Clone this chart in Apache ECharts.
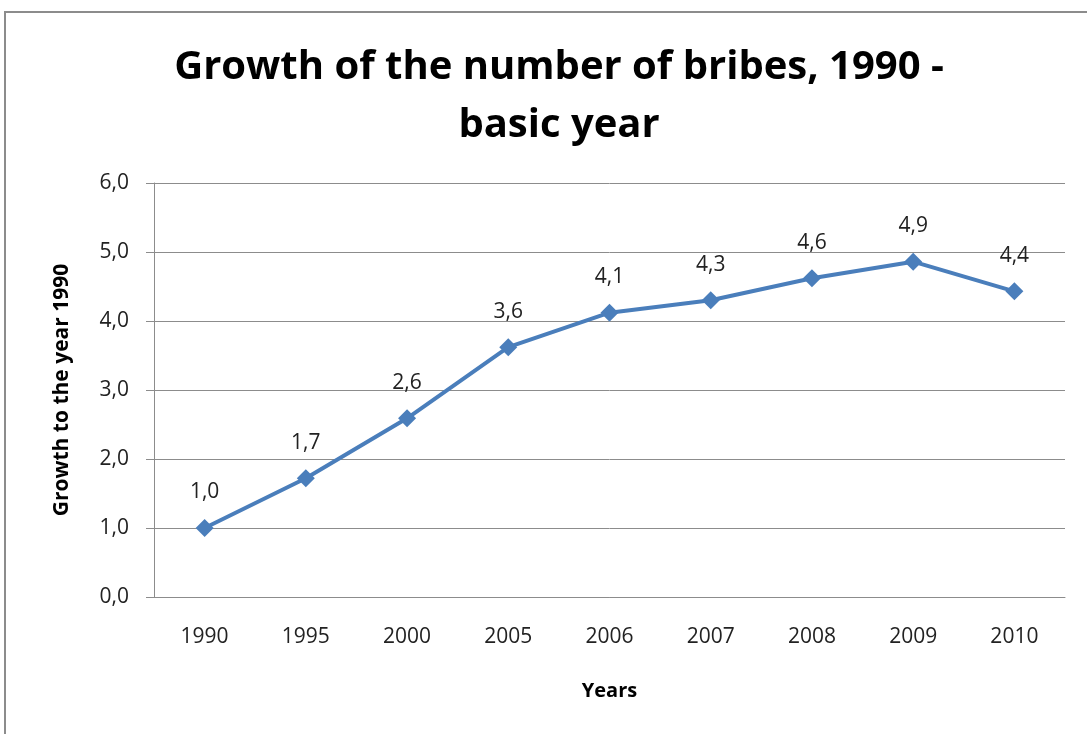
<!DOCTYPE html>
<html>
<head>
<meta charset="utf-8">
<script src="https://cdn.jsdelivr.net/npm/echarts@6/dist/echarts.min.js"></script>
<style>
  html, body { margin: 0; padding: 0; background: #fff; }
  #chart { width: 1087px; height: 734px; }
</style>
</head>
<body>
<div id="chart"></div>
<script>
// years on the x axis
var years = ['1990', '1995', '2000', '2005', '2006', '2007', '2008', '2009', '2010'];
// growth relative to 1990
var growth = [1.0, 1.72, 2.59, 3.62, 4.12, 4.30, 4.62, 4.86, 4.43];

var fontFam = '"Open Sans", "Noto Sans", sans-serif';
var chart = echarts.init(document.getElementById('chart'));

// 1.0 -> "1,0"
function comma(v) { return v.toFixed(1).replace('.', ','); }

chart.setOption({
    backgroundColor: '#fff',
    animation: false,
    graphic: [{
        type: 'rect',
        shape: { x: 5, y: 12, width: 1100, height: 740 },
        style: { fill: 'none', stroke: '#8c8c8c', lineWidth: 2 },
        silent: true
    }],
    title: {
        text: 'Growth of the number of bribes, 1990 -\nbasic year',
        left: 554,
        top: 34,
        textAlign: 'center',
        textStyle: {
            fontFamily: fontFam,
            fontWeight: 'bold',
            fontSize: 40,
            lineHeight: 58,
            color: '#000'
        }
    },
    grid: { left: 154, top: 183, width: 911, height: 414 },
    xAxis: {
        type: 'category',
        data: years,
        name: 'Years',
        nameLocation: 'middle',
        nameGap: 84,
        nameTextStyle: { fontFamily: fontFam, fontWeight: 'bold', fontSize: 20, color: '#000' },
        axisLine: { lineStyle: { color: '#8c8c8c', width: 1 } },
        axisTick: { length: 9, lineStyle: { color: '#8c8c8c' } },
        axisLabel: { fontFamily: fontFam, fontSize: 21, color: '#222', margin: 30 }
    },
    yAxis: {
        type: 'value',
        min: 0,
        max: 6,
        interval: 1,
        name: 'Growth to the year 1990',
        nameLocation: 'middle',
        nameGap: 81,
        nameTextStyle: { fontFamily: fontFam, fontWeight: 'bold', fontSize: 21, color: '#000' },
        axisLine: { show: true, lineStyle: { color: '#8c8c8c', width: 1 } },
        axisTick: { show: true, length: 8, lineStyle: { color: '#8c8c8c' } },
        axisLabel: {
            fontFamily: fontFam, fontSize: 21, color: '#222', margin: 25,
            formatter: comma
        },
        splitLine: { lineStyle: { color: '#8c8c8c', width: 1 } }
    },
    series: [{
        type: 'line',
        data: growth,
        symbol: 'diamond',
        symbolSize: 18,
        lineStyle: { color: '#4a7ebb', width: 4 },
        itemStyle: { color: '#4a7ebb' },
        label: {
            show: true,
            position: 'top',
            distance: 16,
            fontFamily: fontFam,
            fontSize: 21,
            color: '#222',
            formatter: function (p) { return comma(p.value); }
        }
    }]
});
</script>
</body>
</html>
